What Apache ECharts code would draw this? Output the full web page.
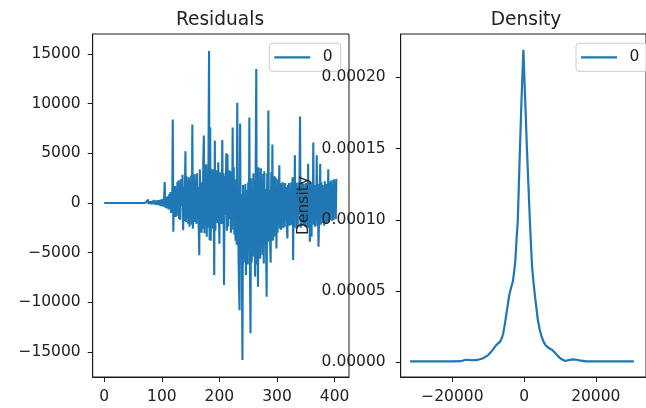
<!DOCTYPE html>
<html>
<head>
<meta charset="utf-8">
<script src="https://cdn.jsdelivr.net/npm/echarts@6/dist/echarts.min.js"></script>
<style>
html,body{margin:0;padding:0;background:#fff;}
#chart{width:646px;height:408px;}
</style>
</head>
<body>
<div id="chart"></div>
<script>
// ---------- data ----------
const residuals = [
0,0,0,0,0,0,0,0,0,0,
0,0,0,0,0,0,0,0,0,0,
0,0,0,0,0,0,0,0,0,0,
0,0,0,0,0,0,0,0,0,0,
0,0,0,0,0,0,0,0,0,0,
0,0,0,0,0,0,0,0,0,0,
0,0,0,0,0,0,0,0,0,0,
10,-20,40,-30,60,-40,340,-80,120,-60,
150,-100,180,-120,200,-90,310,-150,220,-130,
260,-180,240,-200,300,-220,280,-260,350,-300,
380,-320,420,-380,500,2100,-450,560,-520,620,
-560,700,-650,900,-300,1100,-1000,600,-900,8400,
-2900,1500,-600,1700,-1400,400,-1300,2100,-500,2300,
-1600,900,-1700,2400,-300,1200,2850,-2750,1600,-1800,
800,5200,-1900,2700,-700,1500,-2100,2600,-2400,1200,
-1000,2800,-2200,7900,-2600,1100,-800,2900,-1900,1800,
-2100,3000,-700,1600,-2300,-5250,3400,-1200,2100,-3000,
1500,-2600,4300,6800,-3050,2200,-900,3900,-3400,1600,
-2500,4200,15300,-3750,7600,-3800,2300,-1200,3400,-2600,
1200,-7260,6300,-2800,1800,-1400,3300,-2000,4100,-600,
-4100,3100,-1300,2000,-2100,6350,-900,3000,-8260,2700,
-1200,1700,5000,-2800,4900,-2400,1400,3300,-1600,3200,
-3000,1200,-2700,7600,-1700,3600,-3200,1500,-3800,2400,
-4200,10100,1200,-4500,-8430,-10800,8000,-5000,900,-5600,
-15800,1800,-6000,600,-5500,1900,-7260,-7100,1300,-6200,
2100,-4200,8600,-6500,-13100,2500,-6000,1200,-5400,3000,
-3800,2200,-7430,3400,13500,-6200,1500,-8430,3600,-3000,
2300,-5600,3500,-2800,1100,-5200,2950,-6080,3200,-3600,
1400,-4400,-9440,3000,-2200,9300,-3900,1300,-4000,-6000,
3100,-1600,5900,-3800,1900,-3400,2700,-1200,2500,-4580,
1600,-3000,2400,-800,3800,-2600,1200,-2700,2000,-1500,
2100,-2550,900,-2400,2000,-1300,1600,-2200,-3580,1800,
-1100,2000,-2300,900,-2200,2100,-1400,2600,-5750,1200,
-2500,4800,-1300,2000,-2600,1200,-2400,2100,-1200,2300,
8700,-2500,1000,-2300,2100,-1600,1900,-2200,1200,-2400,
2000,-1300,1800,-2500,3950,-1100,2100,-3900,1900,-1600,
-3400,2100,-1300,6100,-2200,1000,-2400,1800,-1100,4800,
-2300,1900,-4400,-4250,1000,3950,-2200,2100,-1500,1800,
-2000,1000,-2300,2200,-1100,1900,-2000,1100,-1800,3400,
-1900,1000,-1700,2200,-1000,2300,-1800,1100,-1700,2400,
-900,2200,-1600,2450
];

const densityX = [
-31800,-25000,-20000,-17600,-16300,-14800,-13100,-11800,-10900,-10000,
-9300,-8650,-7760,-6690,-6200,-5800,-5350,-4900,-4450,-4020,
-3550,-3130,-2750,-2410,-2100,-1740,-1450,-1150,-700,-190,
300,800,1200,1610,1900,2230,2600,2950,3400,3840,
4350,4900,5500,6080,6900,7850,8500,9180,9900,10520,
11430,12500,13650,14600,15450,17220,22000,30600
];
const densityY = [
0.0000006,0.0000006,0.0000006,0.0000008,0.0000018,0.0000016,0.0000016,0.0000025,0.0000036,0.0000051,
0.0000070,0.0000091,0.0000121,0.0000145,0.0000170,0.0000204,0.0000270,0.0000344,0.0000420,0.0000485,
0.0000530,0.0000566,0.0000640,0.0000718,0.0000860,0.0001000,0.0001250,0.0001500,0.0001850,0.0002193,
0.0001850,0.0001500,0.0001250,0.0001000,0.0000840,0.0000671,0.0000570,0.0000485,0.0000390,0.0000297,
0.0000230,0.0000180,0.0000140,0.0000117,0.0000100,0.0000086,0.0000070,0.0000051,0.0000033,0.0000021,
0.0000009,0.0000016,0.0000021,0.0000018,0.0000014,0.0000007,0.0000006,0.0000006
];

const seriesName = '0';
const titles = ['Residuals', 'Density'];
const densityAxisName = 'Density';
const residXTicks = [0, 100, 200, 300, 400];
const residYTicks = [-15000, -10000, -5000, 0, 5000, 10000, 15000];
const densXTicks = [-20000, 0, 20000];
const densYTicks = [0, 0.00005, 0.0001, 0.00015, 0.0002];

// ---------- styling ----------
const BLUE = '#1f77b4';
const AX = '#1a1a1a';
const TXT = '#222';
const FONT = 'DejaVu Sans';
const TICKFS = 15.5;

function minusFmt(v) { return String(v).replace('-', '\u2212'); }

function axisCommon(ticks, fmt, margin) {
  return {
    axisLine: { show: true, onZero: false, lineStyle: { color: AX, width: 1 } },
    axisTick: { show: true, inside: false, length: 5, customValues: ticks, lineStyle: { color: AX, width: 1 } },
    axisLabel: { show: true, customValues: ticks, formatter: fmt, margin: margin,
      color: TXT, fontFamily: FONT, fontSize: TICKFS },
    splitLine: { show: false }
  };
}

const chart = echarts.init(document.getElementById('chart'), null, { renderer: 'canvas' });

const legendBase = {
  orient: 'horizontal',
  data: [seriesName],
  icon: 'rect',
  itemWidth: 36,
  itemHeight: 2.3,
  padding: [6, 8, 6, 5],
  borderColor: '#cccccc',
  borderWidth: 1,
  borderRadius: 3,
  backgroundColor: 'rgba(255,255,255,0.8)',
  selectedMode: false,
  textStyle: { color: TXT, fontFamily: FONT, fontSize: TICKFS, padding: [0, 0, 0, 7.5] }
};

const option = {
  animation: false,
  backgroundColor: '#fff',
  title: [
    { text: titles[0], left: 220, top: 10.5, textAlign: 'center', padding: 0,
      textStyle: { fontFamily: FONT, fontSize: 18.6, fontWeight: 'normal', color: TXT } },
    { text: titles[1], left: 526, top: 10.5, textAlign: 'center', padding: 0,
      textStyle: { fontFamily: FONT, fontSize: 18.6, fontWeight: 'normal', color: TXT } }
  ],
  legend: [
    Object.assign({}, legendBase, { left: 269.3, top: 43.3 }),
    Object.assign({}, legendBase, { left: 576, top: 43.3 })
  ],
  grid: [
    { left: 92.7, top: 34, width: 256.3, height: 343, show: true, borderColor: AX, borderWidth: 1, backgroundColor: 'transparent' },
    { left: 400.7, top: 34, width: 256, height: 343, show: true, borderColor: AX, borderWidth: 1, backgroundColor: 'transparent' }
  ],
  xAxis: [
    Object.assign({ type: 'value', gridIndex: 0, min: -20, max: 425 }, axisCommon(residXTicks, minusFmt, 12)),
    Object.assign({ type: 'value', gridIndex: 1, min: -34400, max: 34000 }, axisCommon(densXTicks, minusFmt, 12))
  ],
  yAxis: [
    Object.assign({ type: 'value', gridIndex: 0, min: -17517, max: 17014 }, axisCommon(residYTicks, minusFmt, 12)),
    Object.assign({ type: 'value', gridIndex: 1, min: -0.0000103, max: 0.0002304, z: 5,
      name: densityAxisName, nameLocation: 'middle', nameGap: 89, nameRotate: 90,
      nameTextStyle: { fontFamily: FONT, fontSize: TICKFS, color: TXT } },
      axisCommon(densYTicks, function (v) { return Number(v).toFixed(5); }, 15))
  ],
  series: [
    { name: seriesName, type: 'line', xAxisIndex: 0, yAxisIndex: 0, symbol: 'none',
      lineStyle: { color: BLUE, width: 2.1 }, itemStyle: { color: BLUE },
      data: residuals.map(function (v, i) { return [i, v]; }) },
    { name: seriesName, type: 'line', xAxisIndex: 1, yAxisIndex: 1, symbol: 'none',
      lineStyle: { color: BLUE, width: 2.2 }, itemStyle: { color: BLUE },
      data: densityX.map(function (x, i) { return [x, densityY[i]]; }) }
  ]
};

chart.setOption(option);
</script>
</body>
</html>
